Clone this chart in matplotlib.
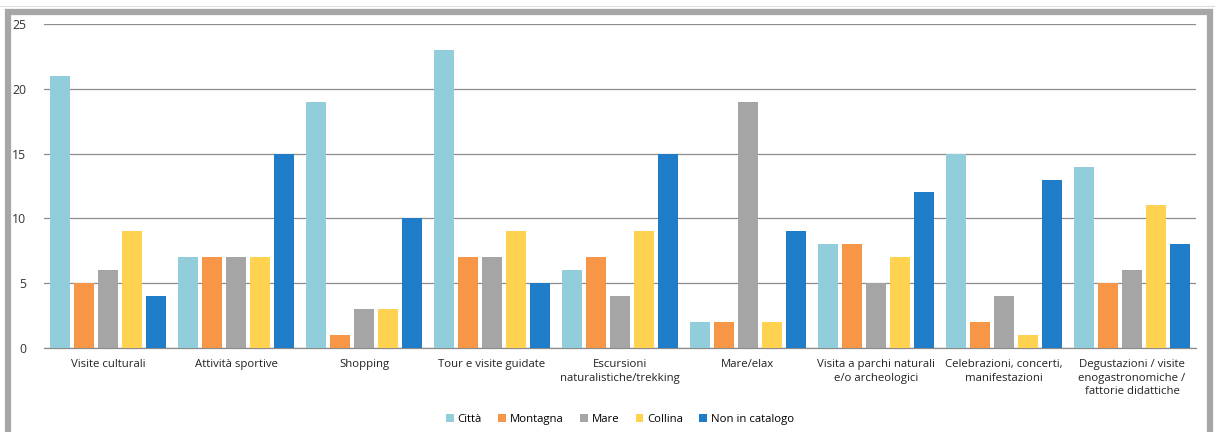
import matplotlib
matplotlib.use("Agg")
import matplotlib.pyplot as plt
import numpy as np
from matplotlib.patches import Rectangle

categories = ["Visite culturali", "Attività sportive", "Shopping", "Tour e visite guidate",
              "Escursioni\nnaturalistiche/trekking", "Mare/elax",
              "Visita a parchi naturali\ne/o archeologici", "Celebrazioni, concerti,\nmanifestazioni",
              "Degustazioni / visite\nenogastronomiche /\nfattorie didattiche"]
series_names = ["Città", "Montagna", "Mare", "Collina", "Non in catalogo"]
citta = [21, 7, 19, 23, 6, 2, 8, 15, 14]
montagna = [5, 7, 1, 7, 7, 2, 8, 2, 5]
mare = [6, 7, 3, 7, 4, 19, 5, 4, 6]
collina = [9, 7, 3, 9, 9, 2, 7, 1, 11]
non_catalogo = [4, 15, 10, 5, 15, 9, 12, 13, 8]
yticks = [0, 5, 10, 15, 20, 25]

colors = ["#92CDDC", "#F79646", "#A5A5A5", "#FFD34F", "#1F7CC8"]
series = [citta, montagna, mare, collina, non_catalogo]

plt.rcParams['font.family'] = ['Open Sans', 'DejaVu Sans']

fig = plt.figure(figsize=(12.15, 4.32), dpi=100)
ax = fig.add_axes([44/1215, 84/432, 1152/1215, 324/432])

x = np.arange(len(categories))
w = 0.156
step = 0.1875
for i, (vals, name, c) in enumerate(zip(series, series_names, colors)):
    ax.bar(x + (i - 2) * step, vals, width=w, color=c, label=name, zorder=3)

ax.set_xlim(-0.5, len(categories) - 0.5)
ax.set_ylim(0, 25)
ax.set_yticks(yticks)
ax.set_yticklabels([str(v) for v in yticks], fontsize=8.8, color="#333333")
ax.yaxis.grid(True, color="#8C8C8C", linewidth=0.9, zorder=0)
ax.tick_params(axis='y', length=0, pad=13)
ax.tick_params(axis='x', length=0, pad=8)
ax.set_xticks(x)
ax.set_xticklabels(categories, fontsize=8.2, color="#222222", linespacing=1.3, va='top')
for s in ["top", "right", "left"]:
    ax.spines[s].set_visible(False)
ax.spines["bottom"].set_color("#8C8C8C")
ax.spines["bottom"].set_linewidth(0.9)

ax.legend(loc="upper center", bbox_to_anchor=(0.5, -0.172), ncol=5, frameon=False,
          fontsize=8.2, handlelength=0.7, handleheight=0.7, handletextpad=0.3,
          columnspacing=1.45)

# outer frame
fig.patches.append(Rectangle((7.5/1215, -0.05), (1210 - 7.5)/1215, (432 - 12 + 22)/432,
                             transform=fig.transFigure, fill=False,
                             edgecolor="#A6A6A6", linewidth=4.5))
fig.lines.append(plt.Line2D([0, 1], [1 - 6/432, 1 - 6/432], transform=fig.transFigure,
                            color="#DDDDDD", linewidth=0.8))

fig.savefig("out.png", dpi=100)
